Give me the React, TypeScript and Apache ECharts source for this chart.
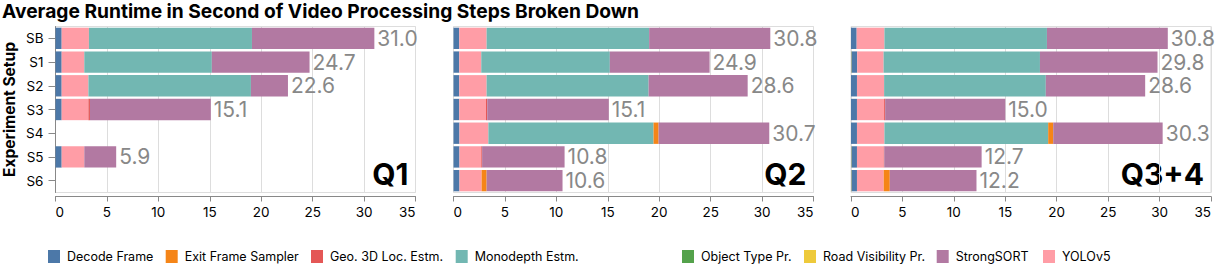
import React, { useEffect, useRef } from "react";
import * as echarts from "echarts";

const categories = ["SB", "S1", "S2", "S3", "S4", "S5", "S6"];
const panels = ["Q1", "Q2", "Q3+4"];
const xTicks = [0, 5, 10, 15, 20, 25, 30, 35];

// values per panel (Q1, Q2, Q3+4), rows in category order
const roadVisibility = [
  [null, null, null, null, null, null, null],
  [null, null, null, null, null, null, null],
  [null, 0.05, null, null, null, 0.05, 0.05],
];
const decodeFrame = [
  [0.6, 0.6, 0.6, 0.6, null, 0.6, null],
  [0.56, 0.56, 0.56, 0.56, 0.58, 0.58, 0.58],
  [0.55, 0.55, 0.58, 0.58, 0.58, 0.53, 0.53],
];
const yolov5 = [
  [2.65, 2.2, 2.6, 2.6, null, 2.2, null],
  [2.66, 2.14, 2.66, 2.6, 2.81, 2.12, 2.15],
  [2.7, 2.57, 2.64, 2.64, 2.67, 2.6, 2.6],
];
const geoLoc = [
  [null, null, null, 0.15, null, null, null],
  [null, null, null, 0.12, null, 0.08, null],
  [null, null, null, 0.1, null, 0.05, null],
];
const objectType = [
  [null, null, null, null, null, null, null],
  [null, null, null, null, null, null, null],
  [null, null, null, null, null, null, null],
];
const monodepth = [
  [15.85, 12.4, 15.8, null, null, null, null],
  [15.8, 12.5, 15.75, null, 16.06, null, null],
  [15.8, 15.2, 15.72, null, 15.92, null, null],
];
const exitSampler = [
  [null, null, null, null, null, null, null],
  [null, null, null, null, 0.49, null, 0.49],
  [null, null, null, null, 0.49, null, 0.59],
];
const strongSort = [
  [11.9, 9.5, 3.6, 11.75, null, 3.1, null],
  [11.78, 9.7, 9.63, 11.82, 10.76, 8.02, 7.38],
  [11.75, 11.43, 9.66, 11.68, 10.64, 9.47, 8.43],
];
const totalLabels = [
  ["31.0", "24.7", "22.6", "15.1", "", "5.9", ""],
  ["30.8", "24.9", "28.6", "15.1", "30.7", "10.8", "10.6"],
  ["30.8", "29.8", "28.6", "15.0", "30.3", "12.7", "12.2"],
];

const legendNames = [
  "Decode Frame",
  "Exit Frame Sampler",
  "Geo. 3D Loc. Estm.",
  "Monodepth Estm.",
  "Object Type Pr.",
  "Road Visibility Pr.",
  "StrongSORT",
  "YOLOv5",
];
const colors: Record<string, string> = {
  "Decode Frame": "#4c78a8",
  "Exit Frame Sampler": "#f58518",
  "Geo. 3D Loc. Estm.": "#e45756",
  "Monodepth Estm.": "#72b7b2",
  "Object Type Pr.": "#54a24b",
  "Road Visibility Pr.": "#eeca3b",
  StrongSORT: "#b279a2",
  YOLOv5: "#ff9da6",
};

// stacking order inside a bar
const stackOrder: [string, (number | null)[][]][] = [
  ["Road Visibility Pr.", roadVisibility],
  ["Decode Frame", decodeFrame],
  ["YOLOv5", yolov5],
  ["Geo. 3D Loc. Estm.", geoLoc],
  ["Object Type Pr.", objectType],
  ["Monodepth Estm.", monodepth],
  ["Exit Frame Sampler", exitSampler],
  ["StrongSORT", strongSort],
];

const FONT = "Inter, 'Noto Sans', sans-serif";

export default function App() {
  const ref = useRef<HTMLDivElement>(null);
  useEffect(() => {
    if (!ref.current) return;
    const chart = echarts.init(ref.current, undefined, { renderer: "svg" });
    const gridLefts = [55.5, 453.5, 851];
    const gridW = 360;
    const gridTop = 26.5;
    const gridH = 166;

    const grid = gridLefts.map((l) => ({
      left: l,
      top: gridTop,
      width: gridW,
      height: gridH,
      show: true,
      borderColor: "#dddddd",
      borderWidth: 1,
      containLabel: false,
      outerBoundsMode: "none",
    }));

    const xAxis = gridLefts.map((_, i) => ({
      type: "value",
      gridIndex: i,
      min: xTicks[0],
      max: xTicks[xTicks.length - 1],
      interval: 5,
      offset: 4,
      axisLine: { show: true, lineStyle: { color: "#888888", width: 1 } },
      axisTick: { show: true, length: 5, lineStyle: { color: "#888888" } },
      axisLabel: {
        fontFamily: FONT,
        fontSize: 13.5,
        color: "#000",
        margin: 8,
        alignMinLabel: "left",
        alignMaxLabel: "right",
      },
      splitLine: { show: true, lineStyle: { color: "#dddddd", width: 1 } },
    }));

    const yAxis = gridLefts.map((_, i) => ({
      type: "category",
      gridIndex: i,
      data: categories,
      inverse: true,
      name: i === 0 ? "Experiment Setup" : "",
      nameLocation: "middle",
      nameRotate: 90,
      nameGap: 38.5,
      nameTextStyle: { fontFamily: FONT, fontSize: 15.5, fontWeight: "bold", color: "#000" },
      axisLine: { show: i === 0, lineStyle: { color: "#888888" } },
      axisTick: { show: i === 0, alignWithLabel: true, length: 7, lineStyle: { color: "#888888" } },
      axisLabel: { show: i === 0, fontFamily: FONT, fontSize: 13.5, color: "#000", margin: 12 },
      splitLine: { show: false },
    }));

    const series: any[] = [];
    panels.forEach((_, p) => {
      stackOrder.forEach(([name, arr]) => {
        const isLast = name === "StrongSORT";
        series.push({
          type: "bar",
          name,
          xAxisIndex: p,
          yAxisIndex: p,
          stack: "panel" + p,
          data: arr[p],
          barCategoryGap: "10%",
          itemStyle: { color: colors[name] },
          label: isLast
            ? {
                show: true,
                position: "right",
                distance: 3,
                fontFamily: FONT,
                fontSize: 21,
                color: "#888888",
                formatter: (prm: any) => totalLabels[p][prm.dataIndex],
              }
            : { show: false },
          emphasis: { disabled: true },
        });
      });
    });

    const legendLefts = [48, 165.7, 311, 455.7, 682, 804, 936.7, 1043];
    const legend = legendNames.map((n, i) => ({
      data: [n],
      left: legendLefts[i],
      top: 250,
      padding: 0,
      itemWidth: 12,
      itemHeight: 13,
      icon: "rect",
      selectedMode: false,
      textStyle: { fontFamily: FONT, fontSize: 12.5, color: "#000", padding: [0, 0, 0, 2] },
    }));

    const graphic: any[] = [
      {
        type: "text",
        x: 2,
        y: 11,
        style: {
          text: "Average Runtime in Second of Video Processing Steps Broken Down",
          fontFamily: FONT,
          fontSize: 19.2,
          fontWeight: "bold",
          fill: "#000",
          verticalAlign: "middle",
        },
      },
    ];
    panels.forEach((pn, p) => {
      graphic.push({
        type: "text",
        x: gridLefts[p] + gridW - 7,
        y: 174,
        style: {
          text: pn,
          fontFamily: FONT,
          fontSize: 30,
          fontWeight: "bold",
          fill: "#000",
          align: "right",
          verticalAlign: "middle",
        },
      });
    });

    chart.setOption({
      animation: false,
      backgroundColor: "#ffffff",
      textStyle: { fontFamily: FONT },
      grid,
      xAxis,
      yAxis,
      series,
      legend,
      graphic,
    });
    return () => chart.dispose();
  }, []);
  return (
    <div
      ref={ref}
      style={{ position: "fixed", left: 0, top: 0, width: 1216, height: 265 }}
    />
  );
}
